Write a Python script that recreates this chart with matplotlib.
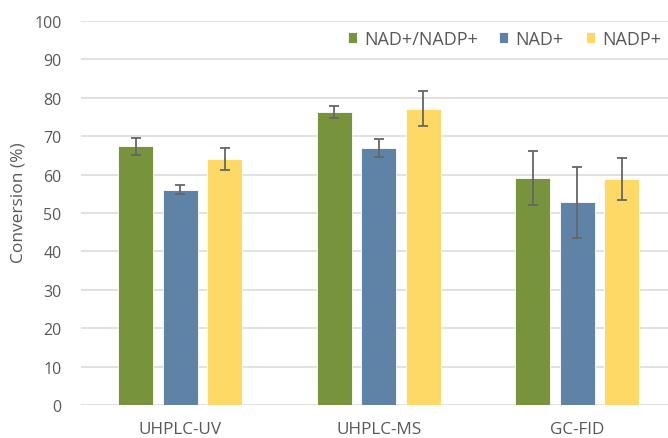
import numpy as np
import matplotlib
matplotlib.use('Agg')
import matplotlib.pyplot as plt

plt.rcParams['font.family'] = ['Open Sans', 'DejaVu Sans']

categories = ['UHPLC-UV', 'UHPLC-MS', 'GC-FID']
series_names = ['NAD+/NADP+', 'NAD+', 'NADP+']
nad_nadp = [67.4, 76.3, 59.2]
nad_nadp_err = [2.2, 1.6, 7.0]
nad = [56.1, 66.8, 52.8]
nad_err = [1.1, 2.35, 9.2]
nadp = [64.0, 77.1, 58.9]
nadp_err = [2.9, 4.5, 5.4]

colors = ['#77933C', '#5F83A6', '#FFD966']
text_col = '#595959'

fig = plt.figure(figsize=(6.68, 4.39), dpi=100)
ax = fig.add_axes([81 / 668, 32.7 / 439, 595.5 / 668, 384.6 / 439])

x = np.arange(len(categories))
width = 0.176
step = 0.224
values = [nad_nadp, nad, nadp]
errors = [nad_nadp_err, nad_err, nadp_err]
for i, (vals, errs) in enumerate(zip(values, errors)):
    ax.bar(x + (i - 1) * step, vals, width, color=colors[i], edgecolor='white',
           linewidth=0.6, label=series_names[i], zorder=2,
           yerr=errs, error_kw=dict(ecolor='#666666', elinewidth=1.3, capsize=3.5, capthick=1.3))

ax.set_xlim(-0.5, 2.5)
ax.set_ylim(0, 100)
ax.set_yticks(np.arange(0, 101, 10))
ax.set_xticks(x)
ax.set_xticklabels(categories, fontsize=12.3)
ax.yaxis.grid(True, color='#D9D9D9', linewidth=1.1, zorder=0)
ax.set_axisbelow(True)
for s in ax.spines.values():
    s.set_visible(False)
ax.tick_params(axis='both', length=0, colors=text_col)
ax.tick_params(axis='y', labelsize=11.5, pad=14)
ax.tick_params(axis='x', pad=11)
ax.set_ylabel('Conversion (%)', fontsize=12.5, color=text_col)
ax.yaxis.set_label_coords(-0.091, 0.53)

leg = fig.legend(loc='center right', bbox_to_anchor=(677 / 668, 1 - 40 / 439),
                 ncol=3, frameon=False, fontsize=13, handlelength=0.5, handleheight=0.5,
                 handletextpad=0.4, columnspacing=1.2)
for t in leg.get_texts():
    t.set_color(text_col)

fig.savefig('out.png', dpi=100)
